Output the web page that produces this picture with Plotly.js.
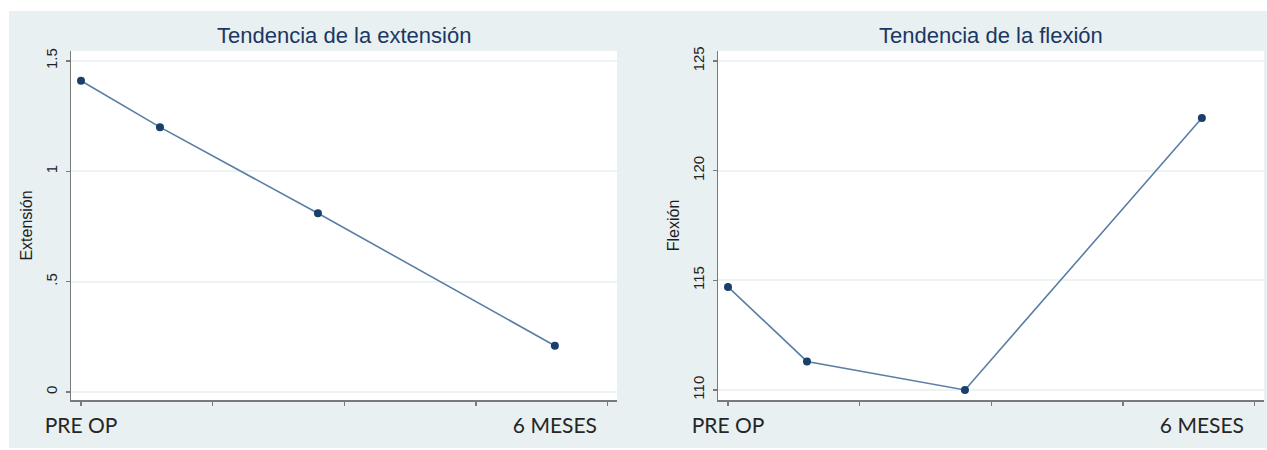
<!DOCTYPE html>
<html>
<head>
<meta charset="utf-8">
<script src="https://cdn.plot.ly/plotly-3.0.1.min.js"></script>
<style>
  html, body { margin: 0; padding: 0; background: #ffffff; }
  #chart { width: 1267px; height: 450px; }
</style>
</head>
<body>
<div id="chart"></div>
<script>
// ---- data ----
const days = [0, 30, 90, 180];
const extension = [1.41, 1.2, 0.81, 0.21];
const flexion = [114.7, 111.3, 110.0, 122.4];

const xTickVals = [0, 50, 100, 150, 200];
const xLabelVals = [0, 180];
const xLabelText = ['PRE OP', '6 MESES'];

const extTickVals = [0, 0.5, 1, 1.5];
const extTickText = ['0', '.5', '1', '1.5'];
const flexTickVals = [110, 115, 120, 125];
const flexTickText = ['110', '115', '120', '125'];

const titles = ['Tendencia de la extensión', 'Tendencia de la flexión'];
const yTitles = ['Extensión', 'Flexión'];

// ---- styling ----
const W = 1267, H = 450;
const M = { l: 71, r: 3, t: 51, b: 50 };
const plotW = W - M.l - M.r, plotH = H - M.t - M.b;
const px = v => (v - M.l) / plotW;
const py = v => (H - M.b - v) / plotH;

const bg = '#e8f0f2';
const axisCol = '#7a7a7a';
const gridCol = '#edf3f3';
const lineCol = '#5a7ea6';
const markerCol = '#1a3f6b';
const titleCol = '#1c3762';
const xRange = [-3.8, 203.6];
const dom1 = [0, px(617)];
const dom2 = [px(718), 1];

function series(y, xa, ya) {
  return {
    x: days, y: y, xaxis: xa, yaxis: ya, type: 'scatter', mode: 'lines+markers',
    line: { color: lineCol, width: 1.6 },
    marker: { color: markerCol, size: 8 },
    showlegend: false, hoverinfo: 'x+y'
  };
}
// empty carrier trace so the overlaid label axis is drawn
function labelCarrier(xa, ya) {
  return {
    x: xLabelVals, y: [null, null], xaxis: xa, yaxis: ya, type: 'scatter', mode: 'markers',
    showlegend: false, hoverinfo: 'skip'
  };
}

function tickAxis(domain, anchor) {
  return {
    domain: domain, anchor: anchor, range: xRange,
    tickmode: 'array', tickvals: xTickVals, ticks: 'outside', ticklen: 4,
    tickcolor: axisCol, tickwidth: 1.3, showticklabels: false,
    showline: true, linecolor: axisCol, linewidth: 1.5,
    showgrid: false, zeroline: false, fixedrange: true
  };
}
function labelAxis(domain, anchor, over) {
  return {
    domain: domain, anchor: anchor, overlaying: over, range: xRange,
    tickmode: 'array', tickvals: xLabelVals, ticktext: xLabelText, ticks: '',
    tickfont: { family: 'Lato, "Open Sans", sans-serif', size: 21, color: '#262626' },
    ticklabelstandoff: 11,
    showline: false, showgrid: false, zeroline: false, fixedrange: true
  };
}
function yAxis(anchor, range, vals, text, title) {
  return {
    anchor: anchor, domain: [0, 1], range: range,
    tickmode: 'array', tickvals: vals, ticktext: text, tickangle: -90,
    ticks: 'outside', ticklen: 4, tickcolor: axisCol, tickwidth: 1.3,
    tickfont: { family: '"Liberation Sans", Arial, sans-serif', size: 15, color: '#222222' },
    ticklabelstandoff: 3,
    showline: true, linecolor: axisCol, linewidth: 1.5,
    showgrid: true, gridcolor: gridCol, gridwidth: 2, zeroline: false,
    title: { text: title, standoff: 6,
      font: { family: '"Liberation Sans", Arial, sans-serif', size: 16, color: '#1e1e1e' } },
    fixedrange: true
  };
}

const data = [
  series(extension, 'x', 'y'),
  series(flexion, 'x2', 'y2'),
  labelCarrier('x3', 'y'),
  labelCarrier('x4', 'y2')
];

const layout = {
  width: W, height: H, margin: M,
  paper_bgcolor: bg, plot_bgcolor: '#ffffff',
  xaxis: tickAxis(dom1, 'y'),
  xaxis3: labelAxis(dom1, 'y', 'x'),
  xaxis2: tickAxis(dom2, 'y2'),
  xaxis4: labelAxis(dom2, 'y2', 'x2'),
  yaxis: yAxis('x', [-0.036, 1.545], extTickVals, extTickText, yTitles[0]),
  yaxis2: yAxis('x2', [109.54, 125.46], flexTickVals, flexTickText, yTitles[1]),
  annotations: [
    { text: titles[0], xref: 'paper', yref: 'paper', x: (dom1[0] + dom1[1]) / 2, y: py(35),
      xanchor: 'center', yanchor: 'middle', showarrow: false,
      font: { family: '"Liberation Sans", Arial, sans-serif', size: 22, color: titleCol } },
    { text: titles[1], xref: 'paper', yref: 'paper', x: (dom2[0] + dom2[1]) / 2, y: py(35),
      xanchor: 'center', yanchor: 'middle', showarrow: false,
      font: { family: '"Liberation Sans", Arial, sans-serif', size: 22, color: titleCol } }
  ],
  shapes: [
    { type: 'rect', xref: 'paper', yref: 'paper', x0: px(0), x1: px(9), y0: py(H), y1: py(0),
      fillcolor: '#ffffff', line: { width: 0 }, layer: 'above' },
    { type: 'rect', xref: 'paper', yref: 'paper', x0: px(0), x1: px(W), y0: py(11), y1: py(0),
      fillcolor: '#ffffff', line: { width: 0 }, layer: 'above' },
    { type: 'rect', xref: 'paper', yref: 'paper', x0: px(0), x1: px(W), y0: py(H), y1: py(448),
      fillcolor: '#ffffff', line: { width: 0 }, layer: 'above' }
  ]
};

Plotly.newPlot('chart', data, layout, { displayModeBar: false, staticPlot: true });
</script>
</body>
</html>
